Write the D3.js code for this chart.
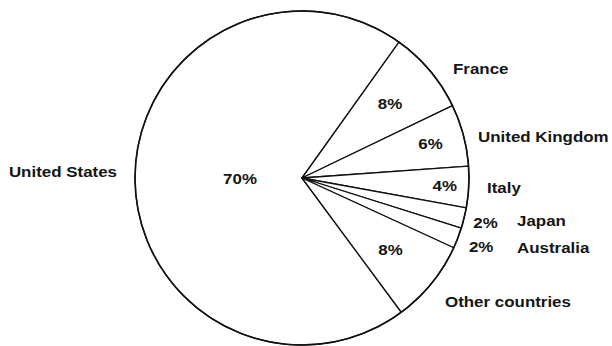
<!DOCTYPE html>
<html>
<head>
<meta charset="utf-8">
<script src="https://cdn.jsdelivr.net/npm/d3@7"></script>
<style>
  html, body { margin: 0; padding: 0; background: #fff; }
  svg text { font-family: "Liberation Sans", Arial, Helvetica, sans-serif; font-size: 14px; font-weight: bold; fill: #151515; }
</style>
</head>
<body>
<svg id="chart" width="612" height="346"></svg>
<script>
// Share of total, by country (percent)
const countries = ["United States", "France", "United Kingdom", "Italy", "Japan", "Australia", "Other countries"];
const shares = [70, 8, 6, 4, 2, 2, 8];
const shareLabels = ["70%", "8%", "6%", "4%", "2%", "2%", "8%"];

// Layout: radial distance of each percentage label, and offset of each name label from the centre
const pctRadius = [62, 115, 133, 143, 189, 192, 114];
const nameOffset = [[-185, -1, "end"], [151, -104, "start"], [176, -36, "start"], [185, 15, "start"],
                    [215, 48, "start"], [215, 75, "start"], [143, 129, "start"]];

const svg = d3.select("#chart");
const cx = 302, cy = 178, radius = 167;
const deg = Math.PI / 180;
// France's leading edge sits ~35.5° clockwise from 12 o'clock; the US slice wraps round the left
const firstStart = 35.5 * deg - (shares[0] / 100) * 2 * Math.PI;

const data = countries.map((c, i) => ({ country: c, value: shares[i], label: shareLabels[i], i }));
const pie = d3.pie().value(d => d.value).sort(null)
  .startAngle(firstStart).endAngle(firstStart + 2 * Math.PI);
const arcs = pie(data);
const arc = d3.arc().innerRadius(0).outerRadius(radius);

const g = svg.append("g").attr("transform", `translate(${cx},${cy})`);

g.selectAll("path.slice").data(arcs).join("path")
  .attr("class", "slice")
  .attr("d", arc)
  .attr("fill", "#fff")
  .attr("stroke", "#111")
  .attr("stroke-width", 1.3)
  .attr("stroke-linejoin", "round");

// outer rim a little heavier
g.append("circle").attr("r", radius).attr("fill", "none").attr("stroke", "#111").attr("stroke-width", 1.6);

const stretch = 1.21; // wide grotesque lettering

function placeText(sel, x, y, anchor) {
  sel.attr("text-anchor", anchor)
     .attr("transform", `translate(${x},${y}) scale(${stretch},1)`);
}

arcs.forEach(a => {
  const mid = (a.startAngle + a.endAngle) / 2;
  const r = pctRadius[a.data.i];
  const x = Math.sin(mid) * r, y = -Math.cos(mid) * r;
  g.append("text").text(a.data.label).call(placeText, x, y + 5, "middle");
  const o = nameOffset[a.data.i];
  g.append("text").text(a.data.country).call(placeText, o[0], o[1], o[2]);
});
</script>
</body>
</html>
